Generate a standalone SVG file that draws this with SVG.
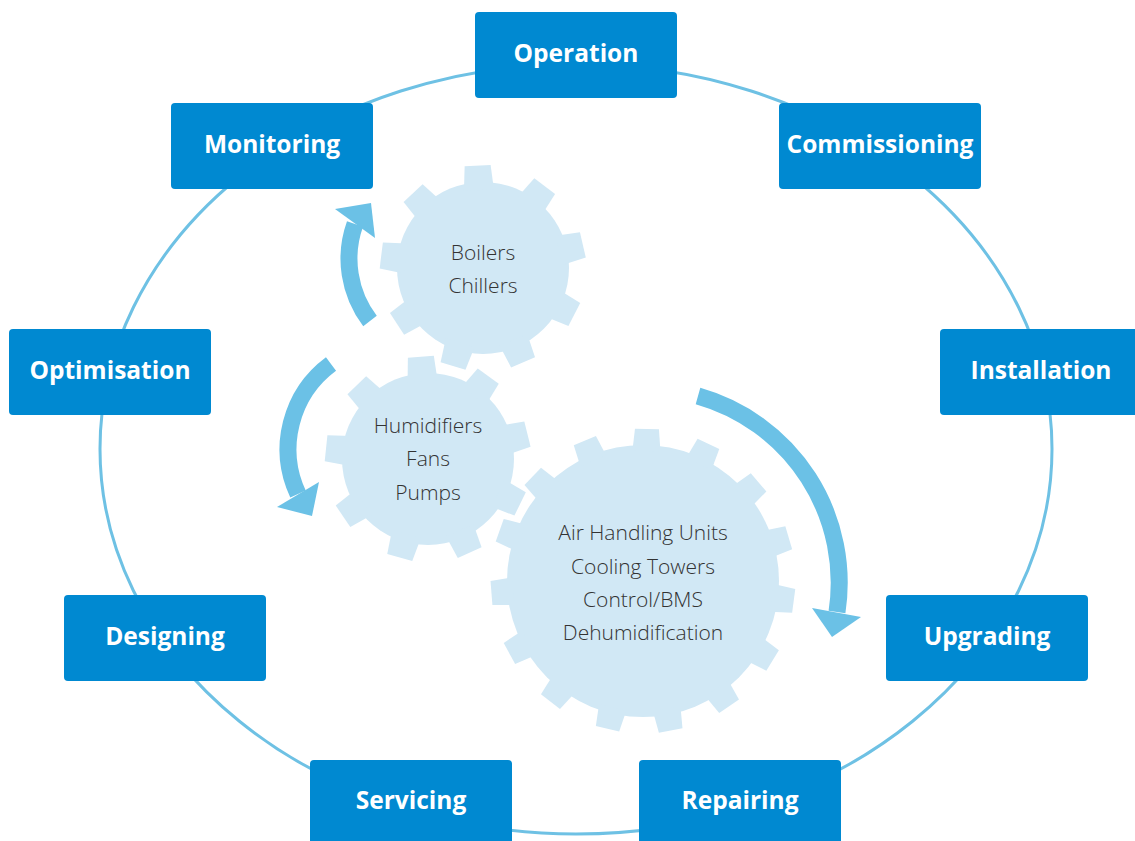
<svg xmlns="http://www.w3.org/2000/svg" width="1135" height="841" viewBox="0 0 1135 841">
<style>
.box{fill:#0089d1}
.lbl{font-family:"Open Sans","Liberation Sans",sans-serif;font-weight:700;font-size:24.5px;fill:#ffffff;text-anchor:middle}
.gear{fill:#d1e8f5}
.gt{font-family:"Open Sans","Liberation Sans",sans-serif;font-weight:300;font-size:21px;fill:#333333;text-anchor:middle}
.arc{fill:none;stroke:#6bc1e6;stroke-width:17;stroke-linecap:butt}
.head{fill:#6bc1e6}
</style>
<defs>
<polygon id="t9" points="-13,-102.5 13,-102.5 15,-78 -15,-78"/>
<polygon id="t15" points="-12,-152 12,-152 14,-130 -14,-130"/>
</defs>
<rect width="1135" height="841" fill="#ffffff"/>
<g id="cycle">
<ellipse cx="576" cy="449" rx="476" ry="385" fill="none" stroke="#6ec1e4" stroke-width="3"/>
</g>
<g id="gear-boilers" class="gear" transform="translate(483,268)">
<circle r="86"/>
<use href="#t9" transform="rotate(-3)"/><use href="#t9" transform="rotate(37)"/><use href="#t9" transform="rotate(77)"/><use href="#t9" transform="rotate(117)"/><use href="#t9" transform="rotate(157)"/><use href="#t9" transform="rotate(197)"/><use href="#t9" transform="rotate(237)"/><use href="#t9" transform="rotate(277)"/><use href="#t9" transform="rotate(317)"/>
<text class="gt" x="0" y="-8">Boilers</text>
<text class="gt" x="0" y="25">Chillers</text>
</g>
<g id="gear-humidifiers" class="gear" transform="translate(428,459)">
<circle r="86"/>
<use href="#t9" transform="rotate(-4)"/><use href="#t9" transform="rotate(36)"/><use href="#t9" transform="rotate(76)"/><use href="#t9" transform="rotate(116)"/><use href="#t9" transform="rotate(156)"/><use href="#t9" transform="rotate(196)"/><use href="#t9" transform="rotate(236)"/><use href="#t9" transform="rotate(276)"/><use href="#t9" transform="rotate(316)"/>
<text class="gt" x="0" y="-26">Humidifiers</text>
<text class="gt" x="0" y="7">Fans</text>
<text class="gt" x="0" y="41">Pumps</text>
</g>
<g id="gear-ahu" class="gear" transform="translate(643,581)">
<circle r="136"/>
<use href="#t15" transform="rotate(1.5)"/><use href="#t15" transform="rotate(25.5)"/><use href="#t15" transform="rotate(49.5)"/><use href="#t15" transform="rotate(73.5)"/><use href="#t15" transform="rotate(97.5)"/><use href="#t15" transform="rotate(121.5)"/><use href="#t15" transform="rotate(145.5)"/><use href="#t15" transform="rotate(169.5)"/><use href="#t15" transform="rotate(193.5)"/><use href="#t15" transform="rotate(217.5)"/><use href="#t15" transform="rotate(241.5)"/><use href="#t15" transform="rotate(265.5)"/><use href="#t15" transform="rotate(289.5)"/><use href="#t15" transform="rotate(313.5)"/><use href="#t15" transform="rotate(337.5)"/>
<text class="gt" x="0" y="-41">Air Handling Units</text>
<text class="gt" x="0" y="-7">Cooling Towers</text>
<text class="gt" x="0" y="26">Control/BMS</text>
<text class="gt" x="0" y="59">Dehumidification</text>
</g>
<g id="connectors">
<path class="arc" d="M370,321 A103,103 0 0 1 355,224"/>
<polygon class="head" points="335,209 371,203 375,238"/>
<path class="arc" d="M331,364 A106,106 0 0 0 298,494"/>
<polygon class="head" points="277,507 312,516 319,482"/>
<path class="arc" d="M698,396 A194,194 0 0 1 837,612"/>
<polygon class="head" points="812,608 832,637 861,617"/>
</g>
<g id="n-operation"><rect class="box" x="475" y="12" width="202" height="86" rx="4"/><text class="lbl" x="576" y="62">Operation</text></g>
<g id="n-monitoring"><rect class="box" x="171" y="103" width="202" height="86" rx="4"/><text class="lbl" x="272" y="153">Monitoring</text></g>
<g id="n-commissioning"><rect class="box" x="779" y="103" width="202" height="86" rx="4"/><text class="lbl" x="880" y="153">Commissioning</text></g>
<g id="n-optimisation"><rect class="box" x="9" y="329" width="202" height="86" rx="4"/><text class="lbl" x="110" y="379">Optimisation</text></g>
<g id="n-installation"><rect class="box" x="940" y="329" width="202" height="86" rx="4"/><text class="lbl" x="1041" y="379">Installation</text></g>
<g id="n-designing"><rect class="box" x="64" y="595" width="202" height="86" rx="4"/><text class="lbl" x="165" y="645">Designing</text></g>
<g id="n-upgrading"><rect class="box" x="886" y="595" width="202" height="86" rx="4"/><text class="lbl" x="987" y="645">Upgrading</text></g>
<g id="n-servicing"><rect class="box" x="310" y="760" width="202" height="90" rx="4"/><text class="lbl" x="411" y="809">Servicing</text></g>
<g id="n-repairing"><rect class="box" x="639" y="760" width="202" height="90" rx="4"/><text class="lbl" x="740" y="809">Repairing</text></g>
</svg>
